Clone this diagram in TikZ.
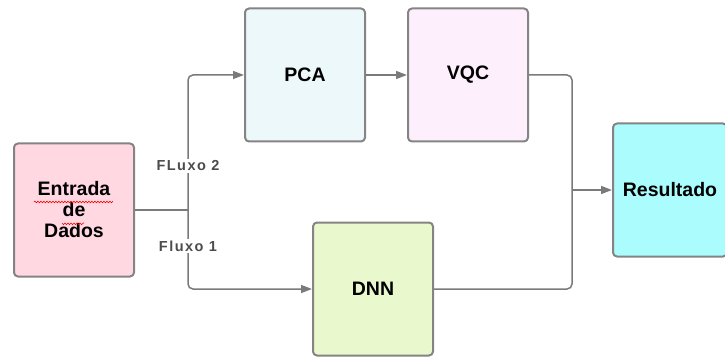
\documentclass[tikz,border=0pt]{standalone}
\usepackage{fontspec}
\setmainfont{Liberation Sans}
\usetikzlibrary{arrows.meta,decorations.pathmorphing}
\definecolor{linegray}{HTML}{7A7A7A}
\definecolor{boxgray}{HTML}{848484}
\definecolor{rosa}{HTML}{FFD8E2}
\definecolor{gelo}{HTML}{ECF8FA}
\definecolor{lilas}{HTML}{FDEFFB}
\definecolor{limao}{HTML}{EAF8CD}
\definecolor{ciano}{HTML}{AAFCFD}
\tikzset{
  bloco/.style={draw=boxgray, line width=2pt, rounded corners=4pt,
    minimum width=120pt, minimum height=133pt, inner sep=0pt,
    font=\fontsize{19.5}{21}\selectfont\bfseries, align=center},
  fluxo/.style={line width=1.5pt, draw=linegray, rounded corners=5pt},
  seta/.style={fluxo, -{Triangle[length=11pt,width=8pt]}},
  rotulo/.style={fill=white, text=black!70, inner sep=1.5pt,
    font=\fontsize{14.5}{16}\selectfont\bfseries\addfontfeature{LetterSpace=10}}
}
\begin{document}
\begin{tikzpicture}[x=1pt, y=-1pt, line join=round]
	\useasboundingbox (0,0) rectangle (725,358);
	\clip (0,0) rectangle (725,358);
	% blocos
	\node[bloco, fill=rosa] (entrada) at (74,210) {Entrada\\de\\Dados};
	\node[bloco, fill=gelo] (pca) at (305,75) {PCA};
	\node[bloco, fill=lilas] (vqc) at (468,75) {VQC};
	\node[bloco, fill=limao] (dnn) at (373,289) {DNN};
	\node[bloco, fill=ciano, minimum width=114pt] (res) at (670,190) {Resultado};
	% marcas do corretor
	\draw[red, line width=0.6pt, decorate, decoration={snake, amplitude=0.8pt, segment length=3pt}]
		([xshift=-40pt,yshift=8pt]entrada.center) -- ([xshift=38pt,yshift=8pt]entrada.center)
		([xshift=-12pt,yshift=-13pt]entrada.center) -- ([xshift=10pt,yshift=-13pt]entrada.center);
	% ligacoes
	\coordinate (split) at (188,210);
	\coordinate (join) at (572,190);
	\draw[fluxo] (entrada.east) -- (split);
	\draw[seta] (split) |- (pca.west);
	\draw[seta] (split) |- (dnn.west);
	\draw[seta] (pca.east) -- (vqc.west);
	\draw[fluxo] (vqc.east) -| (join);
	\draw[fluxo] (dnn.east) -| (join);
	\draw[seta] (join) -- (res.west);
	\node[rotulo] (f2) at (188,166) {FLuxo 2};
	\node[rotulo] (f1) at (188,246) {Fluxo 1};
\end{tikzpicture}
\end{document}
